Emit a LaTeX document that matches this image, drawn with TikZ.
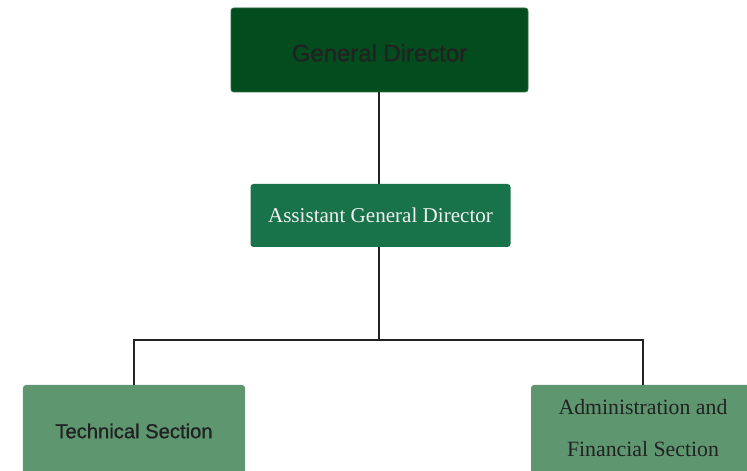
\documentclass[tikz,border=0pt]{standalone}
\usepackage{fontspec}
\setmainfont{Liberation Serif}
\newfontfamily\headfont[FakeBold=0.8]{Liberation Sans}
\definecolor{darkgreen}{HTML}{034C1D}
\definecolor{midgreen}{HTML}{18724A}
\definecolor{lightgreen}{HTML}{5E9670}
\definecolor{inkgray}{HTML}{222222}
\begin{document}
\begin{tikzpicture}[
    orgbox/.style={rectangle, rounded corners=1.7pt, inner sep=0pt, align=center},
    link/.style={draw=inkgray, line width=1.3pt}
]
    % 画布大小
    \useasboundingbox (0,0) rectangle (14.94,9.42);

    % 第一层：总经理
    \node[orgbox, fill=darkgreen, draw={rgb,255:red,46;green,107;blue,63}, line width=0.5pt,
          minimum width=5.94cm, minimum height=1.68cm, text=inkgray, text height=0.46cm,
          font=\headfont\fontsize{13.6}{16}\selectfont] (director) at (7.59,8.42) {General Director};

    % 第二层：副总经理
    \node[orgbox, fill=midgreen, minimum width=5.2cm, minimum height=1.26cm,
          text=white!94!black, font=\fontsize{12}{14}\selectfont] (assistant) at (7.61,5.11) {Assistant General Director};

    % 第三层：两个部门
    \node[orgbox, fill=lightgreen, minimum width=4.44cm, minimum height=1.84cm, text=inkgray,
          font=\headfont\fontsize{11.5}{14}\selectfont] (technical) at (2.68,0.80) {Technical Section};
    \node[orgbox, fill=lightgreen, minimum width=4.48cm, minimum height=1.84cm, text=inkgray,
          text depth=0.12cm, font=\fontsize{12.4}{23.8}\selectfont] (admin) at (12.86,0.80) {Administration and\\Financial Section};

    % 连线
    \coordinate (split) at (7.58,2.62);
    \draw[link] (director.south -| split) -- (assistant.north -| split);
    \draw[link] (assistant.south -| split) -- (split);
    \draw[link] (technical.north) |- (split) -| (admin.north);
\end{tikzpicture}
\end{document}
